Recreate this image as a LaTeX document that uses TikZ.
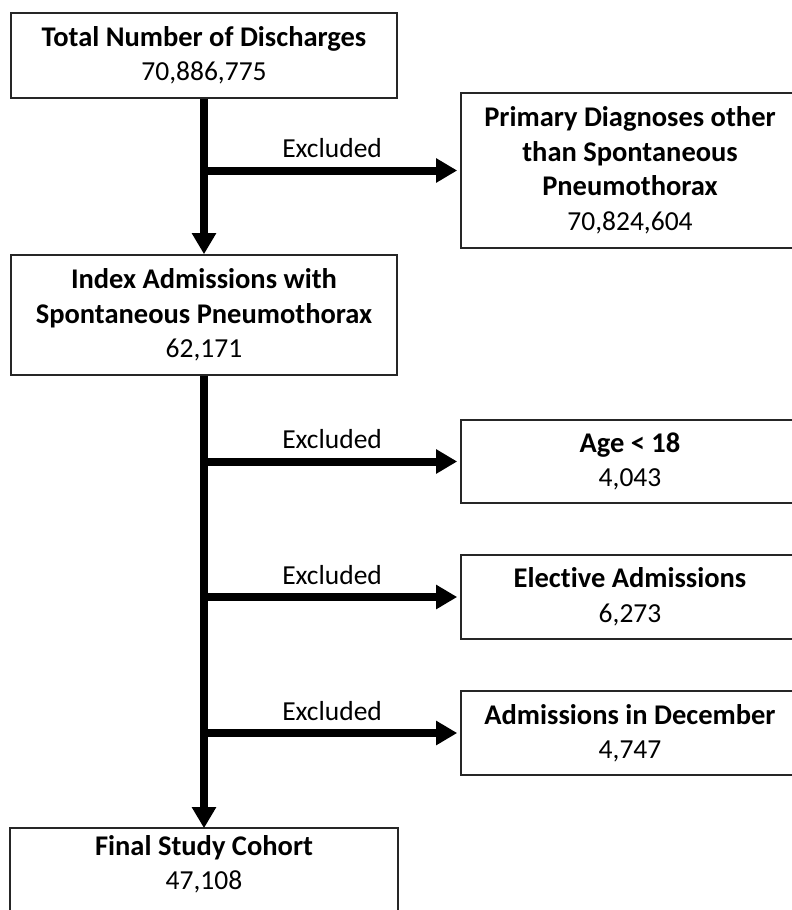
\documentclass[tikz,border=0pt]{standalone}
\usepackage{fontspec}
\setmainfont{Carlito}[Ligatures=NoCommon]
\usetikzlibrary{arrows.meta}
\newcommand{\bl}[1]{{\fontsize{28.5}{34.5}\selectfont\bfseries #1}}
\begin{document}
\begin{tikzpicture}[x=1pt,y=-1pt,
  boxline/.style={draw=black!85, line width=1.6pt},
  basebox/.style={boxline, align=center, inner sep=0pt, font=\fontsize{27.5}{34.5}\selectfont},
  lbox/.style={basebox, minimum width=386pt},
  rbox/.style={basebox, minimum width=338pt},
  arr/.style={line width=8pt, -{Triangle[length=21pt,width=23pt]}},
  exlabel/.style={font=\fontsize{27.5}{30}\selectfont, inner sep=0pt, above=8.5pt}]
\useasboundingbox (0,0) rectangle (792,910);
\node[lbox, minimum height=85pt] (total) at (204,55.5) {\bl{Total Number of Discharges}\\70,886,775};
\node[lbox, minimum height=120pt] (index) at (204,315) {\bl{Index Admissions with}\\\bl{Spontaneous Pneumothorax}\\62,171};
\node[lbox, draw=none, minimum height=70pt] (final) at (204,864) {\bl{Final Study Cohort}\\47,108};
\draw[boxline] (final.north west) rectangle ([yshift=-100pt]final.south east);
\node[rbox, minimum height=155pt] (primary) at (630,170.5) {\bl{Primary Diagnoses other}\\\bl{than Spontaneous}\\\bl{Pneumothorax}\\70,824,604};
\node[rbox, minimum height=83pt] (age) at (630,461.5) {\bl{Age < 18}\\4,043};
\node[rbox, minimum height=84pt] (elective) at (630,597) {\bl{Elective Admissions}\\6,273};
\node[rbox, minimum height=84pt] (december) at (630,733) {\bl{Admissions in December}\\4,747};
\draw[arr] (total.south) -- (index.north);
\draw[arr] (index.south) -- (final.north);
\draw[arr, shorten >=3pt] (total.south |- primary.west) -- node[exlabel] (ex1) {Excluded} (primary.west);
\draw[arr, shorten >=3pt] (index.south |- age.west) -- node[exlabel] (ex2) {Excluded} (age.west);
\draw[arr, shorten >=3pt] (index.south |- elective.west) -- node[exlabel] (ex3) {Excluded} (elective.west);
\draw[arr, shorten >=3pt] (index.south |- december.west) -- node[exlabel] (ex4) {Excluded} (december.west);
\end{tikzpicture}
\end{document}
